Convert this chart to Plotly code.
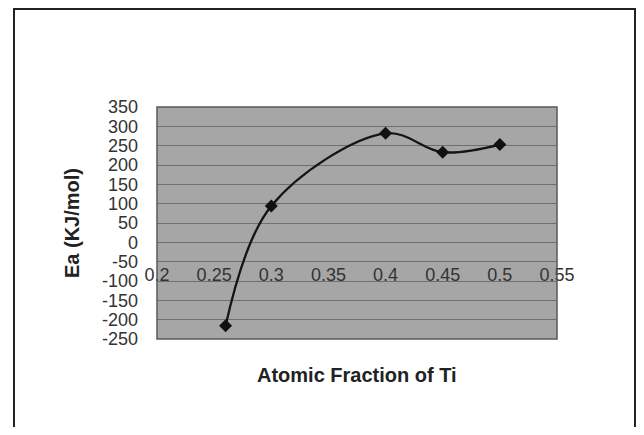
import plotly.graph_objects as go

x_vals = [0.26, 0.3, 0.4, 0.45, 0.5]
ea_vals = [-216, 94, 282, 233, 253]
x_ticks = [0.2, 0.25, 0.3, 0.35, 0.4, 0.45, 0.5, 0.55]
x_labels = ["0.2", "0.25", "0.3", "0.35", "0.4", "0.45", "0.5", "0.55"]
y_ticks = [-250, -200, -150, -100, -50, 0, 50, 100, 150, 200, 250, 300, 350]
y_labels = ["-250", "-200", "-150", "-100", "-50", "0", "50", "100", "150",
            "200", "250", "300", "350"]

fig = go.Figure()
fig.add_trace(go.Scatter(
    x=x_vals, y=ea_vals, mode="lines+markers",
    line=dict(color="#151515", width=2.3, shape="spline", smoothing=1),
    marker=dict(symbol="diamond", size=10, color="#111111"),
    showlegend=False, cliponaxis=False,
))

# page body has an 8px offset; size and margins compensate for it
FW, FH = 628, 419
L, T, W, H = 149, 99, 400, 232
font = "Liberation Sans, Arial, sans-serif"
fig.update_layout(
    width=FW, height=FH,
    margin=dict(l=L, r=FW - L - W, t=T, b=FH - T - H),
    paper_bgcolor="white", plot_bgcolor="#a6a6a6",
    font=dict(family=font, color="#222222"),
    xaxis=dict(range=[0.2, 0.55], tickvals=x_ticks, ticktext=x_labels,
               showgrid=False, zeroline=False, showline=False, ticks="",
               anchor="free", position=(-50 + 250) / 600,
               tickfont=dict(size=18, color="#333333")),
    yaxis=dict(range=[-250, 350], tickvals=y_ticks, ticktext=y_labels,
               showgrid=True, gridcolor="#6f6f6f", gridwidth=1, zeroline=False,
               showline=False, ticks="", ticklabelstandoff=18,
               tickfont=dict(size=18, color="#333333")),
    shapes=[
        dict(type="rect", xref="paper", yref="paper", x0=0, x1=1, y0=0, y1=1,
             line=dict(color="#5a5a5a", width=1.5)),
        dict(type="rect", xref="paper", yref="paper",
             x0=(6 - L) / W, x1=(FW - 1 - L) / W,
             y0=(T + H - FH - 10) / H, y1=(T + H - 1) / H,
             line=dict(color="#222222", width=2)),
    ],
    annotations=[
        dict(text="<b>Atomic Fraction of Ti</b>", xref="paper", yref="paper",
             x=0.5, y=(T + H - 367) / H, xanchor="center", yanchor="middle",
             showarrow=False, font=dict(size=20, color="#222222")),
        dict(text="<b>Ea (KJ/mol)</b>", xref="paper", yref="paper",
             x=(64 - L) / W, y=0.5, xanchor="center", yanchor="middle",
             textangle=-90, showarrow=False,
             font=dict(size=20, color="#222222")),
    ],
)
fig.write_html("out.html")
